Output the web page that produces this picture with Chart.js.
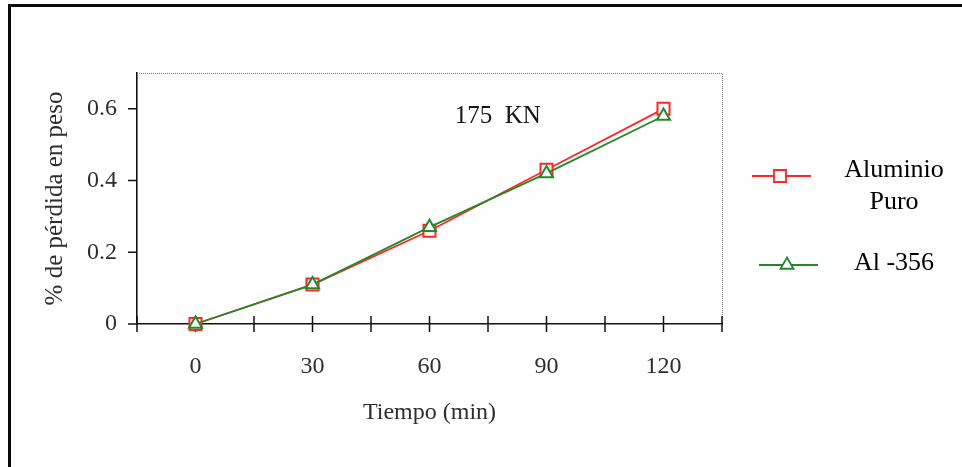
<!DOCTYPE html>
<html>
<head>
<meta charset="utf-8">
<script src="https://cdn.jsdelivr.net/npm/chart.js@4.4.1/dist/chart.umd.min.js"></script>
<style>
  html, body { margin: 0; padding: 0; background: #fff; }
  canvas { display: block; }
</style>
</head>
<body>
<canvas id="c" width="962" height="467"></canvas>
<script>
// Weight loss (%) against time at 175 KN load
const tiempos = [0, 30, 60, 90, 120];
const aluminioPuro = [0, 0.11, 0.26, 0.43, 0.60];
const al356 = [0, 0.11, 0.27, 0.42, 0.58];

const xTickValues = [-15, 0, 15, 30, 45, 60, 75, 90, 105, 120, 135];
const xTickLabels = ['0', '30', '60', '90', '120'];
const yTickValues = [0, 0.2, 0.4, 0.6];
const yTickLabels = ['0', '0.2', '0.4', '0.6'];

const seriesNames = [['Aluminio', 'Puro'], ['Al -356']];
const xTitle = 'Tiempo (min)';
const yTitle = '% de pérdida en peso';
const cargaLabel = '175  KN';

const SERIF = '"Liberation Serif", "Times New Roman", serif';
const RED = '#ff2626';
const GREEN = '#24882a';

// Frame, plot border, tick marks, load label and the side legend
const decor = {
  id: 'decor',
  beforeDraw(chart) {
    const { ctx, width, height } = chart;
    ctx.save();
    ctx.fillStyle = '#fff';
    ctx.fillRect(0, 0, width, height);
    ctx.fillStyle = '#0a0a0a';
    ctx.fillRect(8, 4, width - 8, 3);
    ctx.fillRect(8, 4, 3, height - 4);
    ctx.restore();
  },
  beforeDatasetsDraw(chart) {
    const { ctx, chartArea: a, scales: { x, y } } = chart;
    ctx.save();
    // dotted top and right edges of the plot
    ctx.strokeStyle = '#7a7a7a';
    ctx.lineWidth = 1;
    ctx.setLineDash([1, 1]);
    ctx.beginPath();
    ctx.moveTo(a.left, Math.round(a.top) + 0.5);
    ctx.lineTo(Math.round(a.right) + 0.5, Math.round(a.top) + 0.5);
    ctx.lineTo(Math.round(a.right) + 0.5, a.bottom);
    ctx.stroke();
    ctx.setLineDash([]);
    // tick marks
    ctx.strokeStyle = '#111';
    ctx.lineWidth = 1.5;
    ctx.beginPath();
    x.ticks.forEach(t => {
      const px = x.getPixelForValue(t.value);
      ctx.moveTo(px, a.bottom - 8);
      ctx.lineTo(px, a.bottom + 8);
    });
    y.ticks.forEach(t => {
      const py = y.getPixelForValue(t.value);
      ctx.moveTo(a.left - 9, py);
      ctx.lineTo(a.left, py);
    });
    ctx.stroke();
    ctx.restore();
  },
  afterDraw(chart) {
    const { ctx, scales: { x, y } } = chart;
    ctx.save();
    // load annotation
    ctx.fillStyle = '#151515';
    ctx.font = '25px ' + SERIF;
    ctx.textAlign = 'center';
    ctx.textBaseline = 'middle';
    ctx.fillText(cargaLabel, x.getPixelForValue(77.5), y.getPixelForValue(0.578));

    // legend
    const items = [
      { lineFrom: 752, lineTo: 811, markX: 780, lineY: 176, textY: [170, 202] },
      { lineFrom: 759, lineTo: 818, markX: 787, lineY: 265, textY: [263] }
    ];
    chart.data.datasets.forEach((ds, i) => {
      const it = items[i];
      ctx.strokeStyle = ds.borderColor;
      ctx.lineWidth = ds.borderWidth;
      ctx.beginPath();
      ctx.moveTo(it.lineFrom, it.lineY);
      ctx.lineTo(it.lineTo, it.lineY);
      ctx.stroke();
      ctx.fillStyle = '#fff';
      ctx.strokeStyle = ds.pointBorderColor;
      Chart.helpers.drawPoint(ctx, {
        pointStyle: ds.pointStyle,
        radius: ds.pointRadius,
        rotation: 0,
        borderWidth: ds.pointBorderWidth
      }, it.markX, it.lineY);
      ctx.fillStyle = '#000';
      ctx.font = '26px ' + SERIF;
      ctx.textAlign = 'center';
      ctx.textBaseline = 'middle';
      seriesNames[i].forEach((line, k) => ctx.fillText(line, 894, it.textY[k]));
    });
    ctx.restore();
  }
};

new Chart(document.getElementById('c'), {
  type: 'line',
  data: {
    datasets: [
      {
        label: seriesNames[0].join(' '),
        data: tiempos.map((t, i) => ({ x: t, y: aluminioPuro[i] })),
        borderColor: RED,
        borderWidth: 1.8,
        pointStyle: 'rect',
        pointRadius: 8.5,
        pointBorderWidth: 2,
        pointBorderColor: RED,
        pointBackgroundColor: '#fff',
        tension: 0,
        clip: false,
        order: 2
      },
      {
        label: seriesNames[1].join(' '),
        data: tiempos.map((t, i) => ({ x: t, y: al356[i] })),
        borderColor: GREEN,
        borderWidth: 1.8,
        pointStyle: 'triangle',
        pointRadius: 7.5,
        pointBorderWidth: 2,
        pointBorderColor: GREEN,
        pointBackgroundColor: '#fff',
        tension: 0,
        clip: false,
        order: 1
      }
    ]
  },
  options: {
    responsive: false,
    devicePixelRatio: 1,
    animation: false,
    layout: { padding: { left: 20, top: 73, right: 240, bottom: 0 } },
    plugins: { legend: { display: false }, tooltip: { enabled: false } },
    scales: {
      x: {
        type: 'linear',
        min: -15,
        max: 135,
        afterBuildTicks: s => { s.ticks = xTickValues.map(v => ({ value: v })); },
        afterFit: s => { s.height = 143; },
        grid: { display: false, drawTicks: false, tickLength: 0 },
        border: { display: true, color: '#111', width: 1.6 },
        ticks: {
          autoSkip: false,
          maxRotation: 0,
          padding: 28,
          color: '#2e2e2e',
          font: { family: SERIF, size: 24 },
          callback: v => { const i = tiempos.indexOf(v); return i >= 0 ? xTickLabels[i] : ''; }
        },
        title: {
          display: true,
          text: xTitle,
          color: '#2e2e2e',
          font: { family: SERIF, size: 24 },
          padding: { top: 0, bottom: 40 }
        }
      },
      y: {
        type: 'linear',
        min: 0,
        max: 0.7,
        afterBuildTicks: s => { s.ticks = yTickValues.map(v => ({ value: v })); },
        afterFit: s => { s.width = 117; },
        grid: { display: false, drawTicks: false, tickLength: 0 },
        border: { display: true, color: '#111', width: 1.6 },
        ticks: {
          padding: 20,
          color: '#2e2e2e',
          font: { family: SERIF, size: 24 },
          callback: v => { const i = yTickValues.indexOf(v); return i >= 0 ? yTickLabels[i] : ''; }
        },
        title: {
          display: true,
          text: yTitle,
          color: '#2e2e2e',
          font: { family: SERIF, size: 25 },
          padding: { top: 20, bottom: 0 }
        }
      }
    }
  },
  plugins: [decor]
});
</script>
</body>
</html>
